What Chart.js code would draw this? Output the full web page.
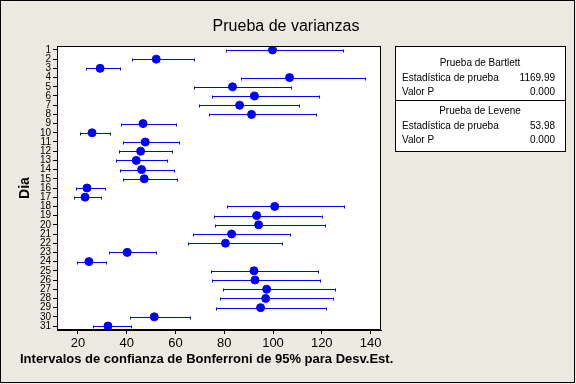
<!DOCTYPE html>
<html>
<head>
<meta charset="utf-8">
<script src="https://cdn.jsdelivr.net/npm/chart.js@4"></script>
<style>
  html, body { margin: 0; padding: 0; background: #ECE9E0; }
  #wrap { width: 576px; height: 384px; }
</style>
</head>
<body>
<div id="wrap"><canvas id="chart" width="576" height="384"></canvas></div>
<script>
const dias = [1, 2, 3, 4, 5, 6, 7, 8, 9, 10, 11, 12, 13, 14, 15, 16,
              17, 18, 19, 20, 21, 22, 23, 24, 25, 26, 27, 28, 29, 30, 31];
// desviacion estandar estimada y limites del intervalo de Bonferroni
const desvEst = [99.8, 52.1, 29.1, 106.8, 83.4, 92.4, 86.3, 91.2, 46.7, 25.8, 47.6,
                 45.7, 43.9, 46.1, 47.2, 23.7, 22.9, 100.7, 93.3, 94.1, 83.0, 80.5,
                 40.2, 24.5, 92.2, 92.6, 97.4, 97.0, 94.9, 51.3, 32.3];
const limInf = [80.9, 42.2, 23.3, 86.7, 67.7, 75.1, 69.8, 73.9, 37.6, 20.8, 38.5,
                36.9, 35.6, 37.3, 38.5, 19.2, 18.4, 81.3, 75.6, 76.4, 67.3, 65.3,
                32.8, 19.6, 74.7, 75.1, 79.3, 78.4, 76.8, 41.4, 26.2];
const limSup = [128.8, 67.5, 37.3, 137.9, 107.4, 118.9, 110.7, 117.7, 60.1, 33.3, 61.3,
                58.4, 56.4, 59.3, 60.7, 30.9, 29.5, 129.2, 120.2, 121.2, 107.0, 103.5,
                51.9, 31.3, 118.5, 119.3, 125.5, 124.7, 121.8, 65.8, 41.8];
const xTicks = [20, 40, 60, 80, 100, 120, 140];

const titulo = 'Prueba de varianzas';
const tituloX = 'Intervalos de confianza de Bonferroni de 95% para Desv.Est.';
const tituloY = 'Dia';
const bartlett = ['Prueba de Bartlett', 'Estadística de prueba', '1169.99', 'Valor P', '0.000'];
const levene = ['Prueba de Levene', 'Estadística de prueba', '53.98', 'Valor P', '0.000'];

const BLUE = '#0000FF';
const BG = '#ECE9E0';

const fondo = {
    id: 'fondo',
    beforeDraw(chart) {
        const ctx = chart.ctx;
        const a = chart.chartArea;
        ctx.save();
        ctx.fillStyle = BG;
        ctx.fillRect(0, 0, chart.width, chart.height);
        ctx.fillStyle = '#fff';
        ctx.fillRect(a.left, a.top, a.right - a.left, a.bottom - a.top);
        ctx.restore();
    }
};

// lineas de los intervalos, debajo de los puntos
const intervalos = {
    id: 'intervalos',
    beforeDatasetsDraw(chart) {
        const ctx = chart.ctx;
        const x = chart.scales.x;
        const y = chart.scales.y;
        ctx.save();
        ctx.strokeStyle = BLUE;
        ctx.lineWidth = 1;
        dias.forEach(function (d, i) {
            const py = Math.round(y.getPixelForValue(d)) + 0.5;
            const x0 = Math.round(x.getPixelForValue(limInf[i])) + 0.5;
            const x1 = Math.round(x.getPixelForValue(limSup[i])) + 0.5;
            ctx.beginPath();
            ctx.moveTo(x0, py); ctx.lineTo(x1, py);
            ctx.moveTo(x0, py - 1); ctx.lineTo(x0, py + 2);
            ctx.moveTo(x1, py - 1); ctx.lineTo(x1, py + 2);
            ctx.stroke();
        });
        ctx.restore();
    }
};

const textos = {
    id: 'textos',
    afterDraw(chart) {
        const ctx = chart.ctx;
        const a = chart.chartArea;
        ctx.save();
        ctx.strokeStyle = '#000';
        ctx.lineWidth = 1;
        // marco del area de trazado
        ctx.strokeRect(a.left + 0.5, a.top + 0.5, a.right - a.left - 1, a.bottom - a.top - 1);
        // marco exterior
        ctx.strokeRect(0.5, 0.5, 574, 382);

        ctx.fillStyle = '#000';
        ctx.textBaseline = 'middle';
        ctx.textAlign = 'center';
        ctx.font = '16px "Liberation Sans", Arial, sans-serif';
        ctx.fillText(titulo, 286, 27);

        ctx.textAlign = 'left';
        ctx.font = 'bold 13px "Liberation Sans", Arial, sans-serif';
        ctx.fillText(tituloX, 20, 359);

        ctx.save();
        ctx.translate(25, 188);
        ctx.rotate(-Math.PI / 2);
        ctx.textAlign = 'center';
        ctx.font = 'bold 14px "Liberation Sans", Arial, sans-serif';
        ctx.fillText(tituloY, 0, 0);
        ctx.restore();

        // cuadro de resultados
        const bx = 395, by = 46, bw = 170, bh = 105, div = 100;
        ctx.fillStyle = '#fff';
        ctx.fillRect(bx, by, bw, bh);
        ctx.strokeRect(bx + 0.5, by + 0.5, bw, bh);
        ctx.beginPath();
        ctx.moveTo(bx, div + 0.5); ctx.lineTo(bx + bw, div + 0.5);
        ctx.stroke();

        ctx.fillStyle = '#000';
        ctx.font = '10px "Liberation Sans", Arial, sans-serif';
        function bloque(t, y0) {
            ctx.textAlign = 'center';
            ctx.fillText(t[0], bx + bw / 2, y0);
            ctx.textAlign = 'left';
            ctx.fillText(t[1], bx + 7, y0 + 15);
            ctx.fillText(t[3], bx + 7, y0 + 29);
            ctx.textAlign = 'right';
            ctx.fillText(t[2], bx + bw - 10, y0 + 15);
            ctx.fillText(t[4], bx + bw - 10, y0 + 29);
        }
        bloque(bartlett, 63);
        bloque(levene, 111);
        ctx.restore();
    }
};

const ctx = document.getElementById('chart').getContext('2d');
new Chart(ctx, {
    type: 'scatter',
    data: {
        datasets: [{
            data: dias.map(function (d, i) { return { x: desvEst[i], y: d }; }),
            backgroundColor: BLUE,
            borderColor: BLUE,
            pointRadius: 4,
            pointStyle: 'circle'
        }]
    },
    options: {
        responsive: false,
        animation: false,
        layout: { padding: { left: 0, top: 46, right: 195, bottom: 0 } },
        plugins: { legend: { display: false }, tooltip: { enabled: false } },
        scales: {
            x: {
                type: 'linear',
                min: 11.4,
                max: 144.3,
                afterBuildTicks: function (s) { s.ticks = xTicks.map(v => ({ value: v })); },
                afterFit: function (s) { s.height = 54; },
                grid: { drawOnChartArea: false, drawTicks: true, tickLength: 4, color: '#000' },
                border: { display: true, color: '#000' },
                ticks: {
                    color: '#000',
                    padding: 2,
                    maxRotation: 0,
                    font: { family: '"Liberation Sans", Arial, sans-serif', size: 13 }
                }
            },
            y: {
                type: 'linear',
                reverse: true,
                min: 0.57,
                max: 31.43,
                afterBuildTicks: function (s) { s.ticks = dias.map(v => ({ value: v })); },
                afterFit: function (s) { s.width = 57; },
                grid: { drawOnChartArea: false, drawTicks: true, tickLength: 4, color: '#000' },
                border: { display: true, color: '#000' },
                ticks: {
                    color: '#000',
                    padding: 2,
                    autoSkip: false,
                    font: { family: '"Liberation Sans", Arial, sans-serif', size: 10 },
                    callback: function (v) { return String(v); }
                }
            }
        }
    },
    plugins: [fondo, intervalos, textos]
});
</script>
</body>
</html>
